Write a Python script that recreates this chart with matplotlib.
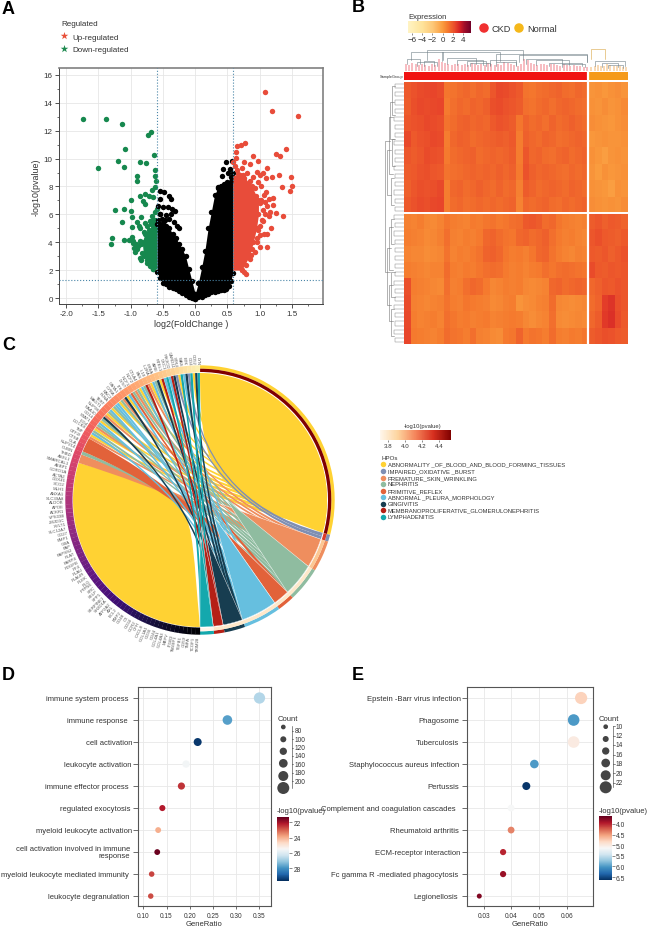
import matplotlib
matplotlib.use('Agg')
import matplotlib.pyplot as plt
import numpy as np
from matplotlib.cm import ScalarMappable
from matplotlib.colors import LinearSegmentedColormap, Normalize
from matplotlib.patches import PathPatch, Wedge
from matplotlib.path import Path
from matplotlib.ticker import MultipleLocator

plt.rcParams['font.family'] = ['Liberation Sans', 'DejaVu Sans']

W, H = 649, 928
DARK = '#333333'

# ---- A: volcano ----
black_left_x = [-0.59, -0.55, -0.5, -0.45, -0.4, -0.35, -0.3, -0.25, -0.2, -0.15, -0.1, -0.05, 0]
black_left_hi = [5.3, 5.3, 5.3, 5.2, 5.0, 4.6, 4.3, 3.9, 3.5, 3.0, 2.1, 1.2, 0.3]
black_left_lo = [1.9, 1.4, 1.1, 1.0, 0.8, 0.7, 0.65, 0.5, 0.35, 0.2, 0.1, 0.02, -0.05]
black_right_x = [0, 0.05, 0.1, 0.15, 0.2, 0.25, 0.3, 0.35, 0.4, 0.45, 0.5, 0.55, 0.585]
black_right_hi = [0.3, 1.1, 2.2, 3.4, 5.0, 6.2, 7.4, 7.9, 8.0, 8.2, 8.3, 8.7, 9.0]
black_right_lo = [-0.05, 0.05, 0.1, 0.2, 0.3, 0.4, 0.45, 0.5, 0.6, 0.6, 0.8, 1.2, 1.8]
black_x = [-0.543, -0.48, -0.413, -0.377, -0.553, -0.579, -0.506, -0.424, -0.357, -0.31, -0.543, -0.455,
           -0.377, -0.413, -0.491, -0.336, -0.284, -0.253, 0.475, 0.568, 0.543, 0.506, 0.429, 0.413,
           0.568, 0.36, 0.41, 0.54, 0.49, 0.47, 0.52, -0.57, -0.52, -0.47, -0.55]
black_y = [7.7, 7.58, 7.34, 7.1, 7.1, 6.58, 6.5, 6.5, 6.39, 6.22, 6.03, 5.96,
           6.03, 5.67, 5.55, 5.48, 5.19, 5.02, 9.78, 9.8, 9.26, 9.0, 9.26, 8.78,
           8.42, 7.94, 7.6, 7.8, 8.18, 0.65, 0.85, 5.6, 5.7, 5.6, 6.0]

red_mass_y = [2, 3, 4, 5, 6, 7, 8, 8.8]
red_mass_x = [0.72, 0.84, 0.9, 0.95, 0.98, 0.98, 0.88, 0.74]
red_x = [1.075, 1.19, 1.59, 0.775, 0.71, 0.646, 1.406, 0.636, 1.256, 1.307, 0.889, 0.636, 0.98, 0.75, 0.58,
         1.488, 1.297, 1.12, 1.504, 1.349, 1.463, 1.189, 0.956, 1.36, 1.256, 1.163, 1.12, 1.008,
         0.85, 0.72, 0.65, 0.8, 1.05, 1.0, 0.9, 1.1, 0.97, 0.85, 1.02, 0.93, 1.1, 1.06, 1.14, 1.2,
         1.08, 1.0, 1.12, 1.2, 1.05, 1.14, 1.05, 1.0, 1.17, 1.12, 1.06, 1.0, 0.95, 0.96, 0.88, 0.85,
         0.78, 0.73, 0.76, 0.78, 0.62, 0.66, 0.7, 0.76, 0.82, 0.94, 1.02, 1.08, 0.98, 1.04, 0.92, 0.86]
red_y = [14.76, 13.4, 13.09, 11.15, 11.0, 10.89, 10.69, 10.45, 10.33, 10.2, 10.17, 10.02, 9.86, 9.74, 9.78,
         8.66, 8.85, 9.33, 8.06, 7.94, 7.66, 8.66, 9.07, 5.86, 6.1, 6.15, 3.64, 3.64,
         9.6, 9.3, 9.2, 9.0, 9.0, 8.8, 8.7, 8.6, 8.3, 8.4, 8.0, 7.9, 7.6, 7.4, 7.1, 7.2,
         6.9, 6.8, 6.6, 6.7, 6.3, 5.9, 5.5, 5.2, 5.0, 4.6, 4.6, 4.5, 4.3, 4.0, 3.5, 2.8,
         2.4, 2.0, 1.9, 1.7, 9.5, 8.9, 8.8, 8.6, 8.2, 7.3, 7.0, 6.0, 4.9, 5.6, 3.3, 3.1]

green_mass_y = [2.1, 3, 4, 4.6, 5.2]
green_mass_x = [-0.66, -0.8, -0.82, -0.78, -0.66]
green_x = [-1.74, -1.385, -1.137, -0.734, -0.687, -1.085, -0.636, -1.194, -0.848, -0.765, -1.499, -1.11, -0.63,
           -0.894, -0.894, -0.63, -0.605, -0.63, -0.67, -0.775, -0.853, -0.72, -0.646, -0.99, -0.81, -0.775,
           -1.25, -1.10, -0.987, -0.594, -0.62, -0.667, -1.127, -0.98, -0.832, -0.904, -0.98, -0.863, -0.749,
           -0.646, -1.29, -1.31, -1.10, -1.03, -0.98, -0.97, -0.94,
           -0.86, -0.8, -0.76, -0.72, -0.68, -0.85, -0.92, -0.95, -0.88, -0.84, -0.82, -0.86, -0.84, -0.7,
           -0.66, -0.74, -0.75, -0.66, -0.6, -0.96, -0.9, -0.7, -0.78, -0.62, -0.64]
green_y = [12.82, 12.82, 12.46, 11.67, 11.89, 10.67, 10.24, 9.81, 9.78, 9.71, 9.31, 9.38, 9.21,
           8.76, 8.37, 8.78, 8.42, 7.94, 7.78, 7.46, 7.34, 7.3, 7.22, 7.06, 6.99, 6.75,
           6.32, 6.39, 6.22, 6.39, 6.15, 5.91, 5.43, 5.79, 5.79, 5.48, 5.12, 5.19, 5.19,
           5.43, 4.31, 3.85, 4.16, 4.16, 4.35, 3.92, 3.28,
           5.0, 4.7, 4.6, 4.9, 5.3, 4.1, 3.9, 3.6, 3.7, 3.9, 3.2, 2.9, 2.7, 2.3,
           2.1, 2.7, 2.5, 5.6, 4.9, 4.1, 3.5, 5.5, 5.4, 5.6, 2.2]

# ---- B: heatmap, coarse reading of the cells, in tenths of expression ----
ckd_top = [
    [19, 21, 23, 24, 25, 23, 11, 12, 14, 15, 13, 15, 14, 20, 24, 23, 21, 19, 12, 11, 13, 14, 15, 16, 14, 13, 15, 14],
    [18, 22, 24, 23, 24, 25, 10, 13, 15, 14, 16, 15, 17, 22, 23, 21, 20, 18, 13, 12, 14, 15, 13, 15, 16, 15, 14, 13],
    [20, 21, 22, 24, 23, 22, 12, 14, 16, 17, 15, 16, 15, 19, 21, 20, 18, 11, 16, 14, 15, 13, 16, 14, 15, 17, 15, 14],
    [24, 19, 21, 22, 24, 23, 9, 15, 17, 16, 14, 15, 16, 17, 18, 17, 19, 9, 17, 15, 14, 16, 15, 13, 14, 15, 16, 15],
    [20, 18, 20, 23, 22, 21, 10, 14, 15, 16, 17, 14, 15, 16, 15, 16, 18, 9, 20, 15, 16, 14, 13, 15, 16, 14, 15, 16],
    [18, 19, 21, 22, 20, 19, 12, 13, 14, 15, 16, 15, 16, 15, 17, 15, 17, 10, 21, 17, 15, 16, 15, 14, 13, 15, 14, 15],
    [17, 20, 22, 21, 22, 24, 9, 15, 16, 14, 15, 17, 15, 14, 16, 14, 15, 8, 18, 16, 14, 15, 16, 15, 14, 16, 15, 14],
    [19, 21, 23, 22, 24, 25, 9, 14, 15, 13, 14, 15, 14, 15, 14, 15, 16, 7, 15, 14, 15, 16, 14, 13, 15, 14, 15, 16],
]
normal_top = [
    [2, 3, 1, 3, 4, 2], [3, 2, 4, 2, 3, 5], [4, 3, 2, 1, 3, 4], [1, 2, 3, 2, 2, 3],
    [3, 1, -1, 2, 3, 2], [2, 0, 3, 1, 2, 3], [3, 2, 1, -1, 3, 2], [4, 3, 2, 3, 2, 4],
]
ckd_bottom = [
    [8, 7, 9, 6, 5, 7, 11, 9, 8, 7, 10, 9, 11, 12, 10, 11, 13, 14, 19, 20, 18, 14, 15, 11, 9, 8, 7, 8],
    [9, 8, 7, 5, 6, 8, 13, 8, 7, 9, 8, 10, 15, 16, 14, 12, 11, 15, 16, 14, 15, 17, 13, 10, 8, 9, 7, 6],
    [7, 6, 6, 4, 5, 6, 12, 7, 9, 8, 10, 12, 16, 17, 15, 11, 9, 10, 8, 11, 15, 16, 12, 9, 7, 6, 8, 7],
    [9, 8, 7, 6, 7, 7, 14, 9, 8, 10, 9, 11, 13, 14, 13, 10, 8, 9, 7, 9, 10, 13, 11, 13, 14, 13, 12, 11],
    [22, 9, 8, 7, 6, 5, 13, 8, 9, 13, 15, 14, 10, 6, 7, 9, 8, 9, 6, 5, 6, 7, 15, 16, 14, 15, 16, 15],
    [23, 8, 7, 6, 7, 8, 12, 9, 8, 11, 10, 9, 8, 5, 6, 8, 9, 2, 4, 5, 7, 8, 14, 6, 5, 4, 5, 6],
    [24, 9, 7, 8, 9, 7, 13, 11, 9, 10, 8, 9, 10, 7, 8, 9, 10, 9, 6, 4, 6, 7, 13, 5, 4, 5, 6, 5],
    [25, 10, 9, 8, 7, 9, 14, 12, 11, 9, 13, 8, 7, 5, 4, 10, 11, 16, 10, 12, 11, 9, 14, 9, 8, 10, 9, 11],
]
normal_bottom = [
    [18, 20, 17, 19, 18, 16], [20, 22, 19, 18, 17, 19], [19, 18, 20, 17, 19, 21], [23, 19, 18, 20, 19, 20],
    [15, 17, 20, 19, 21, 20], [14, 16, 27, 29, 22, 20], [15, 18, 28, 30, 23, 19], [18, 20, 22, 21, 19, 18],
]
expr_colors = ['#fff4c4', '#fee39a', '#fdc878', '#fa9c3e', '#f57a2e', '#e8452a', '#d01e26', '#a00f2a', '#700028']
expr_anchors = [-6.8, -4, -2, 0, 1, 2.5, 3.5, 4.3, 5.55]
expr_ticks = [-6, -4, -2, 0, 2, 4]

ckd_stems = [0.3, 0.28, 0.35, 0.3, 0.26, 0.33, 0.28, 0.25, 0.32, 0.27, 0.55, 0.42, 0.36, 0.3, 0.28, 0.34, 0.3, 0.26,
             0.3, 0.28, 0.35, 0.3, 0.26, 0.32, 0.28, 0.36, 0.3, 0.27, 0.3, 0.26, 0.42, 0.35, 0.3, 0.28, 0.25, 0.3,
             0.55, 0.48, 0.38, 0.3, 0.28, 0.32, 0.3, 0.26, 0.3, 0.33, 0.28, 0.25, 0.3, 0.28, 0.24, 0.27, 0.25, 0.22,
             0.2, 0.2]
normal_stems = [0.2, 0.22, 0.28, 0.25, 0.22, 0.3, 0.26, 0.22, 0.25, 0.22, 0.2, 0.18]
top_br_left = [0.5, 2, 3, 1.1, 5.8, 3.5, 14, 6.5, 8, 9.5, 10, 13, 14, 17.5, 18.5, 20, 22, 24, 28.4, 29, 30, 31]
top_br_right = [2.5, 5, 4.5, 5.9, 14.5, 18, 27.8, 11, 12, 12.5, 13, 17, 17, 27.8, 24, 25, 27, 27.5, 30.5, 33.5, 32.5, 33.3]
top_br_h = [0.55, 0.4, 0.45, 0.87, 0.85, 0.95, 0.78, 0.6, 0.5, 0.45, 0.38, 0.5, 0.4, 0.75, 0.55, 0.48, 0.38, 0.3,
            1.0, 0.45, 0.35, 0.28]
left_leaf_depth = [0.4, 0.5, 0.45, 0.38, 0.5, 0.42, 0.36, 0.48, 0.44, 0.52, 0.38, 0.46, 0.5, 0.4, 0.55, 0.42,
                   0.36, 0.48, 0.44, 0.5, 0.42, 0.55, 0.4, 0.5, 0.46, 0.38, 0.52, 0.44, 0.5, 0.4, 0.48, 0.36,
                   0.55, 0.42, 0.5, 0.46, 0.38, 0.52, 0.42, 0.48, 0.4, 0.5, 0.45, 0.38, 0.5, 0.42, 0.36, 0.48,
                   0.44, 0.52, 0.38, 0.46, 0.5, 0.4, 0.55, 0.42, 0.36, 0.48, 0.44, 0.5, 0.42, 0.55, 0.4, 0.5]
left_br_top = [0.5, 4.5, 13.5, 8, 23, 16, 33, 35, 46, 55, 49, 40, 14]
left_br_bot = [7.5, 13.5, 20, 22, 29.5, 27, 39, 45.5, 52, 61.5, 58, 54, 46]
left_br_depth = [0.65, 0.72, 0.65, 0.8, 0.68, 0.88, 0.7, 0.78, 0.66, 0.7, 0.8, 0.92, 1.0]

# ---- C: chord ----
term_names = ['ABNORMALITY _OF_BLOOD_AND_BLOOD_FORMING_TISSUES', 'IMPAIRED_OXIDATIVE _BURST',
              'PREMATURE_SKIN_WRINKLING', 'NEPHRITIS', 'PRIMITIVE_REFLEX', 'ABNORMAL _PLEURA_MORPHOLOGY',
              'GINGIVITIS', 'MEMBRANOPROLIFERATIVE_GLOMERULONEPHRITIS', 'LYMPHADENITIS']
term_colors = ['#ffd233', '#7f8fb3', '#ef8e5e', '#8fbca0', '#e2623a', '#66bfdf', '#173d50', '#b52016', '#14a8ad']
term_counts = [70, 2, 9, 10, 5, 11, 6, 3, 4]
term_logp = [4.54, 4.3, 3.95, 3.8, 3.8, 3.8, 3.8, 3.8, 3.71]
# which term each thin strand belongs to, going round the gene arc
strand_terms = [2, 0, 5, 3, 0, 2, 3, 5, 0, 3, 6, 2, 0, 3, 5, 0, 3, 5, 5, 0, 3, 2, 6, 0, 5, 4, 3, 2, 3, 0, 5, 3, 7, 2,
                0, 5, 3, 6, 0, 7, 5, 8, 5, 7, 6, 1, 0, 8, 5, 6, 1, 8, 0, 6, 8]
# the wide links at the start of the fanned part: term, number of links, gene arc in degrees
wide_terms = [2, 3, 4]
wide_units = [3, 1, 4]
wide_gene_from = [287, 291, 292.5]
wide_gene_to = [291, 292.5, 299]
yellow_gene_from = 180
yellow_gene_to = 287
strand_gene_from = 299
strand_gene_to = 360
# where the solid wedge of each term runs out, as a fraction of the radius
wedge_terms = [2, 3, 4, 5, 6, 7, 8]
wedge_tip_x = [0.16, 0.21, 0.19, 0.11, 0.05, 0.01, 0.0]
wedge_tip_y = [-0.03, 0.0, -0.24, -0.13, -0.29, -0.21, -0.29]
genes = ['TRIM28', 'TCOF1', 'TNFA', 'CD59', 'TGFB1', 'TM4SF1', 'ITGB3', 'MEFV', 'COL4A3', 'COL4A1', 'CD44', 'CD36',
         'COL1A1', 'CXCL8', 'CFH', 'CCR2', 'CD34', 'C3', 'CD48', 'BMP2', 'BCL2', 'AXL', 'ATP2A2', 'SH2D1A',
         'SERPINE1', 'SPP1', 'SELP', 'SRC', 'PTPN6', 'PLG', 'PLEK', 'PLAUR', 'PLAU', 'PF4', 'PDGFB', 'PARP4',
         'PLAT', 'PAPSS2', 'FAP', 'GBA', 'BMP1', 'CD27', 'SLC12A7', 'XYLT1', 'JMJD1C', 'VPS33B', 'ACKR1', 'APOE',
         'ALDOB', 'SLC39A8', 'ANXA1', 'MLH1', 'SCO2', 'DDX41', 'ACTA2', 'CORO1A', 'AEBP1', 'SMARCAL1', 'ASXL1',
         'THBD', 'CUBN', 'NUP214', 'GLA', 'CTSB', 'GTF2I', 'TNF', 'DOCK8', 'LIG4', 'STAT1', 'CD14', 'NAA10',
         'NUP98', 'MAGT1', 'TERT', 'FLNA', 'RAC2', 'CYBA', 'GATA1', 'ITK', 'LYST', 'NCF1', 'NCF2', 'CTLA4', 'FAS',
         'IL10', 'IL2RA', 'LRBA', 'AIRE', 'RTEL1', 'DKC1', 'PIK3CD', 'CARD11', 'STK4', 'WAS', 'BTK', 'CD4', 'CD52',
         'LYN']
logp_ticks = [3.8, 4.0, 4.2, 4.4]

# ---- D ----
d_terms = ['immune system process', 'immune response', 'cell activation', 'leukocyte activation',
           'immune effector process', 'regulated exocytosis', 'myeloid leukocyte activation',
           'cell activation involved in immune\nresponse', 'myeloid leukocyte mediated immunity',
           'leukocyte degranulation']
d_ratio = [0.35, 0.281, 0.217, 0.192, 0.182, 0.141, 0.132, 0.13, 0.118, 0.116]
d_count = [205, 165, 127, 112, 107, 82, 77, 76, 69, 68]
d_logp = [26.7, 27.8, 29.5, 25.6, 22.5, 22.2, 24.0, 21.4, 22.7, 22.8]
d_label_gap = [10, 10, 6, 6, 9, 7, 6, 8, 9, 8]
d_legend_counts = [80, 100, 120, 140, 160, 180, 200]

# ---- E ----
e_terms = ['Epstein -Barr virus infection', 'Phagosome', 'Tuberculosis', 'Staphylococcus aureus infection',
           'Pertussis', 'Complement and coagulation cascades', 'Rheumatoid arthritis', 'ECM-receptor interaction',
           'Fc gamma R -mediated phagocytosis', 'Legionellosis']
e_ratio = [0.0652, 0.0625, 0.0625, 0.0483, 0.0454, 0.0399, 0.0399, 0.037, 0.037, 0.0284]
e_count = [22, 21, 21, 16, 15, 13, 13, 12, 12, 10]
e_logp = [4.8, 6.0, 5.0, 6.0, 6.6, 5.15, 4.4, 4.0, 3.85, 3.75]
e_label_gap = [6, 8, 8, 8, 8, 11, 8, 7, 9, 9]
e_legend_counts = [10, 12, 14, 16, 18, 20, 22]


def pax(x0, y0, x1, y1, **kw):
    # axes from a pixel box, y counted from the top
    return fig.add_axes([x0 / W, 1 - y1 / H, (x1 - x0) / W, (y1 - y0) / H], **kw)


def px_size(d):
    return (d * 72 / 100) ** 2


fig = plt.figure(figsize=(W / 100, H / 100), dpi=100)
over = pax(0, 0, W, H)
over.set_xlim(0, W)
over.set_ylim(H, 0)
over.axis('off')

for letter, lx, ly in [('A', 2, 9), ('B', 352, 8), ('C', 2, 346), ('D', 2, 676), ('E', 352, 676)]:
    over.text(lx, ly, letter, fontsize=13, fontweight='bold', va='center', color='black')

# ---- panel A ----
ax = pax(59, 69, 323, 305)
ax.set_xlim(-2.11, 1.98)
ax.set_ylim(-0.43, 16.5)
ax.grid(True, color='#e6e6e6', lw=0.6)
ax.set_axisbelow(True)
s_pt = px_size(5.4)
ax.fill_between(black_left_x, black_left_lo, black_left_hi, color='black', lw=0, zorder=2)
ax.fill_between(black_right_x, black_right_lo, black_right_hi, color='black', lw=0, zorder=2)
ax.scatter(black_left_x + black_left_x + black_right_x + black_right_x,
           black_left_hi + black_left_lo + black_right_hi + black_right_lo, s=s_pt, c='black', lw=0, zorder=2)
ax.scatter(black_x, black_y, s=s_pt, c='black', lw=0, zorder=2)
ax.fill_betweenx(red_mass_y, 0.585, red_mass_x, color='#e84c3a', lw=0, zorder=2)
ax.scatter(red_x + red_mass_x, red_y + red_mass_y, s=s_pt, c='#e84c3a', lw=0, zorder=2)
ax.fill_betweenx(green_mass_y, green_mass_x, -0.59, color='#16884e', lw=0, zorder=1.9)
ax.scatter(green_x + green_mass_x, green_y + green_mass_y, s=s_pt, c='#16884e', lw=0, zorder=1.9)
for v in [-0.585, 0.585]:
    ax.axvline(v, color='#4a86a8', ls=':', lw=0.8, zorder=3)
ax.axhline(1.3, color='#4a86a8', ls=':', lw=0.8, zorder=3)
ax.set_xticks([-2, -1.5, -1, -0.5, 0, 0.5, 1, 1.5])
ax.set_xticklabels(['-2.0', '-1.5', '-1.0', '-0.5', '0.0', '0.5', '1.0', '1.5'])
ax.set_yticks(range(0, 17, 2))
ax.xaxis.set_minor_locator(MultipleLocator(0.25))
ax.yaxis.set_minor_locator(MultipleLocator(1))
ax.tick_params(labelsize=5.8, length=3, width=0.6, colors=DARK, pad=1.5)
ax.tick_params(which='minor', length=1.5, width=0.5, colors=DARK)
ax.set_xlabel('log2(FoldChange )', fontsize=6.4, color=DARK, labelpad=1)
ax.set_ylabel('-log10(pvalue)', fontsize=6.4, color=DARK, labelpad=2)
for side in ['top', 'right']:
    ax.spines[side].set_color('#808080')
    ax.spines[side].set_linewidth(1.2)
for side in ['left', 'bottom']:
    ax.spines[side].set_color('#444444')
    ax.spines[side].set_linewidth(0.7)
over.text(61, 25, 'Regulated', fontsize=5.8, va='center', color=DARK)
over.scatter([64.5, 64.5], [37, 50], marker='*', s=px_size(8), c=['#e8503a', '#1f8a50'], lw=0)
over.text(72, 38, 'Up-regulated', fontsize=5.8, va='center', color=DARK)
over.text(72, 51, 'Down-regulated', fontsize=5.8, va='center', color=DARK)

# ---- panel B ----
expr_cmap = LinearSegmentedColormap.from_list(
    'expr', [((a - expr_anchors[0]) / (expr_anchors[-1] - expr_anchors[0]), c)
             for a, c in zip(expr_anchors, expr_colors)])
expr_norm = Normalize(expr_anchors[0], expr_anchors[-1])
matrix = np.vstack([np.hstack([ckd_top, normal_top]), np.hstack([ckd_bottom, normal_bottom])]) / 10
n_ckd = len(ckd_top[0])
n_rows = len(ckd_top)
n_cols = matrix.shape[1]

ax = pax(404, 83, 628, 345)
ax.imshow(matrix, cmap=expr_cmap, norm=expr_norm, aspect='auto', interpolation='nearest')
ax.axvline(n_ckd - 0.5, color='white', lw=1.6)
ax.axhline(n_rows - 0.5, color='white', lw=1.4)
ax.axis('off')

ax = pax(404, 73, 628, 81)
ax.imshow([[0] * n_ckd + [1] * (n_cols - n_ckd)], cmap=LinearSegmentedColormap.from_list('g', ['#f01212', '#f59a1a']),
          aspect='auto', interpolation='nearest')
ax.axvline(n_ckd - 0.5, color='white', lw=1.6)
ax.axis('off')
over.text(403, 77, 'SampleGroup', fontsize=2.8, ha='right', va='center', color=DARK)

ax = pax(404, 50, 628, 72)
ax.set_xlim(0, n_cols)
ax.set_ylim(0, 1)
ax.axis('off')
ckd_pos = (np.arange(len(ckd_stems)) + 0.5) * n_ckd / len(ckd_stems)
normal_pos = n_ckd + 0.2 + (np.arange(len(normal_stems)) + 0.5) * (n_cols - n_ckd - 0.2) / len(normal_stems)
ax.vlines(ckd_pos, 0, ckd_stems, color='#f5a9b0', lw=1.1)
ax.vlines(normal_pos, 0, normal_stems, color='#f7cfa0', lw=1.1)
for xl, xr, h in zip(top_br_left, top_br_right, top_br_h):
    c = '#d9a441' if xr == 30.5 else '#6f7f86'
    ax.plot([xl, xl, xr, xr], [h * 0.55, h, h, h * 0.55], color=c, lw=0.4)

ax = pax(385, 83, 404, 345)
ax.set_xlim(1, 0)
ax.set_ylim(len(left_leaf_depth) - 0.5, -0.5)
ax.axis('off')
for i in range(0, len(left_leaf_depth), 2):
    d = max(left_leaf_depth[i], left_leaf_depth[i + 1])
    ax.plot([0, d, d, 0], [i, i, i + 1, i + 1], color='#888888', lw=0.35)
for yt, yb, d in zip(left_br_top, left_br_bot, left_br_depth):
    ax.plot([d * 0.75, d, d, d * 0.75], [yt, yt, yb, yb], color='#777777', lw=0.4)

ax = pax(408, 22, 471, 34)
fig.colorbar(ScalarMappable(expr_norm, expr_cmap), cax=ax, orientation='horizontal')
ax.set_xticks(expr_ticks)
ax.set_xticklabels(['\u22126', '\u22124', '\u22122', '0', '2', '4'])
ax.tick_params(labelsize=5.8, length=1.5, width=0.4, pad=1, colors=DARK)
ax.xaxis.set_minor_locator(plt.NullLocator())
for sp in ax.spines.values():
    sp.set_visible(False)
over.text(408, 17.5, 'Expression', fontsize=5.6, va='center', color=DARK)
over.scatter([484, 519], [29, 29], s=px_size(9.5), c=['#f03030', '#f5b81a'], lw=0)
over.text(492, 29, 'CKD', fontsize=6.6, va='center', color=DARK)
over.text(527, 29, 'Normal', fontsize=6.6, va='center', color=DARK)

# ---- panel C ----
R_CHORD, R_IN0, R_IN1, R_OUT = 127, 128, 131.3, 134.7
ax = pax(30, 336, 360, 666)
ax.set_xlim(-170, 160)
ax.set_ylim(-165, 165)
ax.axis('off')


def pt(a, r=R_CHORD):
    t = np.radians(a)
    return r * np.sin(t), r * np.cos(t)


def arc(a0, a1):
    steps = max(int(abs(a1 - a0) / 2) + 2, 2)
    return [pt(a) for a in np.linspace(a0, a1, steps)]


def ribbon(a0, a1, b0, b1, color, z):
    # term arc a0-a1 and gene arc b0-b1, joined through the centre
    va = arc(a0, a1)
    vb = arc(b0, b1)
    verts = va + [(0, 0), vb[0]] + vb[1:] + [(0, 0), va[0], va[0]]
    codes = [Path.MOVETO] + [Path.LINETO] * (len(va) - 1) + [Path.CURVE3, Path.CURVE3] + \
            [Path.LINETO] * (len(vb) - 1) + [Path.CURVE3, Path.CURVE3, Path.CLOSEPOLY]
    ax.add_patch(PathPatch(Path(verts, codes), fc=color, ec='none', zorder=z))


def lobe(a0, a1, c1, c2, color):
    # one half of the twisted big ribbon, bounded by a single curve
    va = arc(a0, a1)
    verts = va + [(c1[0] * R_CHORD, c1[1] * R_CHORD), (c2[0] * R_CHORD, c2[1] * R_CHORD), va[0], va[0]]
    codes = [Path.MOVETO] + [Path.LINETO] * (len(va) - 1) + [Path.CURVE4] * 3 + [Path.CLOSEPOLY]
    ax.add_patch(PathPatch(Path(verts, codes), fc=color, ec='none', zorder=1))


def solid_wedge(a0, a1, tip, color):
    va = arc(a0, a1)
    verts = va + [(tip[0] * R_CHORD, tip[1] * R_CHORD), va[0]]
    codes = [Path.MOVETO] + [Path.LINETO] * len(va) + [Path.CLOSEPOLY]
    ax.add_patch(PathPatch(Path(verts, codes), fc=color, ec='white', lw=0.3, zorder=5))


term_edges = np.concatenate([[0], np.cumsum(term_counts)]) * 180 / sum(term_counts)
unit = 180 / sum(term_counts)
lobe(0, term_edges[1], (0.107, 0.05), (0.003, 0.20), term_colors[0])
lobe(yellow_gene_to, yellow_gene_from, (-0.10, 0.075), (0.015, 0.02), term_colors[0])

# free slots on each term arc, the last slot is used first so links do not cross
slots = {k: term_edges[k + 1] for k in range(len(term_counts))}
slots[0] = term_edges[1] - 2
for k, u, g0, g1 in zip(wide_terms, wide_units, wide_gene_from, wide_gene_to):
    ribbon(slots[k] - u * unit, slots[k], g0, g1, term_colors[k], 3)
    slots[k] -= u * unit
strand_w = (strand_gene_to - strand_gene_from) / len(strand_terms)
for i, k in enumerate(strand_terms):
    g0 = strand_gene_from + i * strand_w
    w = unit * 1.6 if k == 0 else unit
    ribbon(slots[k] - w, slots[k], g0, g0 + strand_w * 0.96, term_colors[k], 2 + (k > 0) + 0.01 * i)
    slots[k] -= w
for k, tx, ty in zip(wedge_terms, wedge_tip_x, wedge_tip_y):
    solid_wedge(term_edges[k], term_edges[k + 1], (tx, ty), term_colors[k])

logp_cmap = LinearSegmentedColormap.from_list('logp', ['#fff7ec', '#fdd49e', '#f4845a', '#d7301f', '#7f0000'])
logp_norm = Normalize(3.706, 4.54)
for k in range(len(term_counts)):
    ax.add_patch(Wedge((0, 0), R_OUT, 90 - term_edges[k + 1], 90 - term_edges[k], width=R_OUT - R_IN1,
                       fc=term_colors[k], ec='none', zorder=6))
    ax.add_patch(Wedge((0, 0), R_IN1, 90 - term_edges[k + 1], 90 - term_edges[k], width=R_IN1 - R_IN0,
                       fc=logp_cmap(logp_norm(term_logp[k])), ec='none', zorder=6))
gene_step = 180 / len(genes)
magma = plt.get_cmap('magma')
for i, name in enumerate(genes):
    a = 180 + i * gene_step
    ax.add_patch(Wedge((0, 0), R_OUT, 90 - a - gene_step - 0.05, 90 - a + 0.05, width=R_OUT - R_IN0 + 0.5,
                       fc=magma(i / (len(genes) - 1) * 0.97), ec='none', zorder=6))
    mid = a + gene_step / 2
    tx, ty = pt(mid, R_OUT + 1.5)
    ax.text(tx, ty, name, fontsize=3.1, color='#555555', rotation=90 - mid + 180, rotation_mode='anchor',
            ha='right', va='center')

ax = pax(380, 431, 451, 441)
fig.colorbar(ScalarMappable(logp_norm, logp_cmap), cax=ax, orientation='horizontal')
ax.set_xticks(logp_ticks)
ax.set_xticklabels([f'{t:.1f}' for t in logp_ticks])
ax.tick_params(labelsize=4.4, length=1.5, width=0.4, pad=1, colors=DARK)
ax.xaxis.set_minor_locator(plt.NullLocator())
for sp in ax.spines.values():
    sp.set_visible(False)
over.text(423, 427, '-log10(pvalue)', fontsize=4.2, ha='center', va='center', color=DARK)
over.text(381, 459, 'HPOs', fontsize=4.4, va='center', color=DARK)
item_y = [465, 472, 478.7, 485, 491.7, 498, 504.7, 511, 517.7]
for name, c, y in zip(term_names, term_colors, item_y):
    over.scatter([383.3], [y], s=px_size(5.5), c=c, lw=0)
    over.text(388, y, name, fontsize=4.25, va='center', color=DARK)


# ---- panels D, E ----
def dot_panel(box, xlim, xticks, tick_fmt, names, ratio, count, logp, gaps, vmin, vmax, size_of):
    ax = pax(*box)
    ax.set_xlim(*xlim)
    ax.set_ylim(9.45, -0.5)
    ax.grid(True, color='#e8e8e8', lw=0.6)
    ax.set_axisbelow(True)
    ax.scatter(ratio, range(len(ratio)), s=[px_size(size_of(c)) for c in count], c=logp, cmap='RdBu',
               vmin=vmin, vmax=vmax, lw=0, zorder=3)
    ax.set_xticks(xticks)
    ax.set_xticklabels([tick_fmt % t for t in xticks])
    ax.set_yticks(range(len(names)))
    ax.set_yticklabels([])
    ax.tick_params(labelsize=4.7, length=2.5, width=0.5, colors=DARK, pad=1.5)
    ax.tick_params(axis='y', length=3.5)
    ax.set_xlabel('GeneRatio', fontsize=5.5, color=DARK, labelpad=1)
    for sp in ax.spines.values():
        sp.set_color('#555555')
        sp.set_linewidth(0.8)
    for i, (name, gap) in enumerate(zip(names, gaps)):
        ax.annotate(name, (0, i), xycoords=('axes fraction', 'data'), xytext=(-gap, 0), textcoords='offset pixels',
                    ha='right', va='center', fontsize=5.5, color=DARK, annotation_clip=False, linespacing=1.05)


def size_legend(x_dot, x_bar, y_title, x_title, dot_y, label_y, labels, sizes):
    over.text(x_title, y_title, 'Count', fontsize=5.5, va='center', color=DARK)
    over.scatter([x_dot] * len(dot_y), dot_y, s=[px_size(d) for d in sizes], c='#444444', lw=0)
    over.plot([x_bar, x_bar], [dot_y[0] - 1, dot_y[-1]], color=DARK, lw=0.4)
    for y, lab in zip(label_y, labels):
        over.plot([x_bar, x_bar + 1.5], [y, y], color=DARK, lw=0.4)
        over.text(x_bar + 3, y, str(lab), fontsize=4.8, va='center', color=DARK)


def heat_legend(box, vmin, vmax, ticks, fmt, title_xy):
    ax = pax(*box)
    fig.colorbar(ScalarMappable(Normalize(vmin, vmax), 'RdBu'), cax=ax)
    ax.invert_yaxis()
    ax.set_yticks(ticks)
    ax.set_yticklabels([fmt % t for t in ticks])
    ax.yaxis.set_minor_locator(plt.NullLocator())
    ax.tick_params(labelsize=4.8, length=2, width=0.4, pad=1, colors=DARK)
    for sp in ax.spines.values():
        sp.set_visible(False)
    over.text(title_xy[0], title_xy[1], '-log10(pvalue)', fontsize=5.5, va='center', color=DARK)


dot_panel((138, 688, 271, 907), (0.0886, 0.3748), [0.10, 0.15, 0.20, 0.25, 0.30, 0.35], '%.2f', d_terms, d_ratio,
          d_count, d_logp, d_label_gap, 21.35, 29.65, lambda c: 6 + (c - 80) * 0.0424)
size_legend(283.3, 291.7, 720, 277.5, [728, 740.3, 752.3, 764.3, 777, 789],
            [731.7, 740.3, 748.7, 757, 765.3, 774, 782.3], d_legend_counts, [4.7, 6, 7.3, 8.7, 10, 12])
heat_legend((277.3, 818.3, 289.3, 881.7), 21.35, 29.65, [22, 24, 26, 28], '%d', (277, 812))

dot_panel((467, 688, 593, 907), (0.02396, 0.0695), [0.03, 0.04, 0.05, 0.06], '%.2f', e_terms, e_ratio, e_count,
          e_logp, e_label_gap, 3.64, 6.64, lambda c: 5 + (c - 10) * 0.6)
size_legend(605.7, 613, 720, 599, [727.7, 740, 752, 764, 776.3, 788.3],
            [727.3, 737, 746, 755.7, 765, 774.3, 784], e_legend_counts, [4.7, 6, 7.3, 8.7, 10, 12])
heat_legend((599.3, 817.3, 611.7, 881), 3.64, 6.64, [4.0, 4.5, 5.0, 5.5, 6.0, 6.5], '%.1f', (599, 811.5))

fig.savefig('out.png', dpi=100)
